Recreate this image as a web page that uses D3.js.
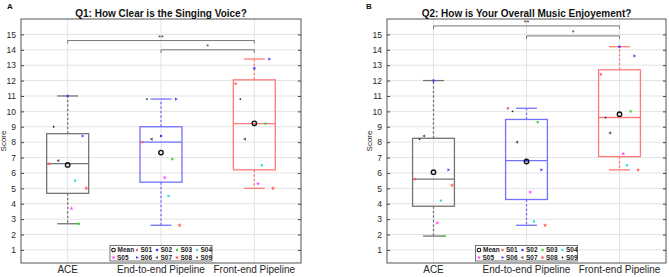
<!DOCTYPE html>
<html>
<head>
<meta charset="utf-8">
<script src="https://cdn.jsdelivr.net/npm/d3@7"></script>
<style>
  body { margin: 0; background: #fff; }
  svg { display: block; font-family: "Liberation Sans", Arial, sans-serif; }
</style>
</head>
<body>
<div id="chart"></div>
<script>
// categories + subjects
const categories = ['ACE', 'End-to-end Pipeline', 'Front-end Pipeline'];
const subjects = ['S01', 'S02', 'S03', 'S04', 'S05', 'S06', 'S07', 'S08', 'S09'];
// horizontal jitter of each subject (in category units)
const subjectJitter = [-0.2, 0, 0.12, 0.08, 0.04, 0.16, -0.1, 0.2, -0.15];

// Q1 scores per subject (S01..S09)
const q1Ace = [6.6, 11.0, 2.7, 5.5, 3.7, 8.4, 6.8, 5.0, 9.0];
const q1EndToEnd = [8.0, 8.4, 6.9, 4.5, 5.7, 10.8, 8.2, 2.6, 10.8];
const q1FrontEnd = [11.8, 12.8, 9.2, 6.5, 5.3, 13.4, 8.2, 5.0, 10.8];
// Q2 scores per subject
const q2Ace = [5.6, 12.0, 1.9, 4.2, 2.75, 6.2, 8.4, 5.2, 8.2];
const q2EndToEnd = [10.2, 6.8, 9.3, 2.85, 4.75, 6.2, 8.0, 2.6, 10.0];
const q2FrontEnd = [12.4, 14.2, 10.0, 6.5, 7.25, 13.6, 8.6, 6.2, 9.6];

// significance brackets: [from, to, label], bracket heights per question
const sigPairs = [[0, 2, '**'], [1, 2, '*']];
const q1SigLevels = [14.6, 14.0];
const q2SigLevels = [15.55, 14.9];

const yTicks = d3.range(1, 16);

const width = 669, height = 277;
const boxColors = ['#747474', '#7272ff', '#ff7b7b'];
const subjectColors = ['#ff6060', '#3a3aff', '#33dd33', '#33e0e0', '#ff55ff', '#4a4aff', '#555555', '#ff6060', '#222222'];
const subjectShapes = [d3.symbolSquare, d3.symbolSquare, d3.symbolSquare, d3.symbolSquare, d3.symbolStar,
  d3.symbolTriangle, d3.symbolTriangle, d3.symbolStar, d3.symbolCircle];
const subjectRot = [0, 0, 0, 0, 0, 90, -90, 0, 0];
const subjectSize = [5, 5, 5, 5, 6, 4.5, 4.5, 6, 2.5];

const svg = d3.select('#chart').append('svg')
  .attr('width', width)
  .attr('height', height);

// MATLAB style percentile
function prctile(sorted, p) {
  const n = sorted.length;
  const pos = p * n + 0.5;
  if (pos <= 1) return sorted[0];
  if (pos >= n) return sorted[n - 1];
  const i = Math.floor(pos), f = pos - i;
  return sorted[i - 1] + f * (sorted[i] - sorted[i - 1]);
}

function boxStats(values) {
  const s = values.slice().sort(d3.ascending);
  const q1 = prctile(s, 0.25), med = prctile(s, 0.5), q3 = prctile(s, 0.75);
  const iqr = q3 - q1;
  const hi = d3.max(s.filter(v => v <= q3 + 1.5 * iqr));
  const lo = d3.min(s.filter(v => v >= q1 - 1.5 * iqr));
  return { q1, med, q3, hi, lo, mean: d3.mean(s) };
}

const panels = [
  { tag: 'A', title: 'Q1: How Clear is the Singing Voice?', scores: [q1Ace, q1EndToEnd, q1FrontEnd], sig: q1SigLevels, x0: 21, x1: 301, tagX: 7 },
  { tag: 'B', title: 'Q2: How is Your Overall Music Enjoyement?', scores: [q2Ace, q2EndToEnd, q2FrontEnd], sig: q2SigLevels, x0: 387, x1: 666, tagX: 366 }
];

const y = d3.scaleLinear().domain([0.15, 16]).range([263, 19]);

panels.forEach(p => {
  const g = svg.append('g');
  const x = d3.scaleLinear().domain([0.5, 3.5]).range([p.x0, p.x1]);
  const unit = x(1) - x(0);

  // grid
  g.append('g').selectAll('line.h')
    .data(yTicks)
    .join('line')
    .attr('x1', p.x0).attr('x2', p.x1)
    .attr('y1', d => y(d)).attr('y2', d => y(d))
    .attr('stroke', '#e3e3e3');
  g.append('g').selectAll('line.v')
    .data(categories)
    .join('line')
    .attr('x1', (d, i) => x(i + 1)).attr('x2', (d, i) => x(i + 1))
    .attr('y1', y.range()[0]).attr('y2', y.range()[1])
    .attr('stroke', '#e3e3e3');

  // y axis
  const ya = g.append('g')
    .attr('transform', `translate(${p.x0},0)`)
    .call(d3.axisLeft(y).tickValues(yTicks).tickSize(-3).tickPadding(5));
  ya.select('.domain').remove();
  ya.selectAll('.tick line').attr('stroke', '#444');
  ya.selectAll('.tick text').attr('fill', '#262626').attr('font-size', 8.5).attr('font-family', '"Liberation Sans", Arial, sans-serif');
  const yr = g.append('g')
    .attr('transform', `translate(${p.x1},0)`)
    .call(d3.axisRight(y).tickValues(yTicks).tickSize(-3).tickFormat(''));
  yr.select('.domain').remove();
  yr.selectAll('.tick line').attr('stroke', '#444');

  // boxes
  p.scores.forEach((vals, ci) => {
    const st = boxStats(vals);
    const cx = x(ci + 1);
    const bw = unit * 0.45;
    const col = boxColors[ci];
    const bg = g.append('g').attr('stroke', col).attr('fill', 'none').attr('stroke-width', 1.3);
    bg.append('line').attr('x1', cx).attr('x2', cx).attr('y1', y(st.q3)).attr('y2', y(st.hi))
      .attr('stroke-dasharray', '2.5,2');
    bg.append('line').attr('x1', cx).attr('x2', cx).attr('y1', y(st.q1)).attr('y2', y(st.lo))
      .attr('stroke-dasharray', '2.5,2');
    bg.append('line').attr('x1', cx - bw / 4).attr('x2', cx + bw / 4).attr('y1', y(st.hi)).attr('y2', y(st.hi));
    bg.append('line').attr('x1', cx - bw / 4).attr('x2', cx + bw / 4).attr('y1', y(st.lo)).attr('y2', y(st.lo));
    bg.append('rect').attr('x', cx - bw / 2).attr('width', bw)
      .attr('y', y(st.q3)).attr('height', y(st.q1) - y(st.q3));
    bg.append('line').attr('x1', cx - bw / 2).attr('x2', cx + bw / 2).attr('y1', y(st.med)).attr('y2', y(st.med));

    // subject points
    g.append('g').selectAll('path')
      .data(vals)
      .join('path')
      .attr('d', (d, i) => d3.symbol(subjectShapes[i], subjectSize[i])())
      .attr('transform', (d, i) => `translate(${x(ci + 1 + subjectJitter[i])},${y(d)}) rotate(${subjectRot[i]})`)
      .attr('fill', (d, i) => subjectColors[i]);

    // mean
    g.append('circle').attr('cx', cx).attr('cy', y(st.mean)).attr('r', 2.2)
      .attr('fill', 'none').attr('stroke', '#111').attr('stroke-width', 1.4);
  });

  // significance
  sigPairs.forEach((s, k) => {
    const lv = y(p.sig[k]);
    const xa = x(s[0] + 1), xb = x(s[1] + 1);
    g.append('path')
      .attr('d', `M${xa},${lv + 3}V${lv}H${xb}V${lv + 3}`)
      .attr('fill', 'none').attr('stroke', '#777').attr('stroke-width', 1);
    g.append('text')
      .attr('x', (xa + xb) / 2).attr('y', lv - 0.5)
      .attr('text-anchor', 'middle').attr('font-size', 7).attr('fill', '#333')
      .text(s[2]);
  });

  // frame
  g.append('rect')
    .attr('x', p.x0).attr('y', y.range()[1])
    .attr('width', p.x1 - p.x0).attr('height', y.range()[0] - y.range()[1])
    .attr('fill', 'none').attr('stroke', '#555');

  // category labels
  g.append('g').selectAll('text')
    .data(categories)
    .join('text')
    .attr('x', (d, i) => x(i + 1)).attr('y', 273)
    .attr('text-anchor', 'middle').attr('font-size', 10).attr('fill', '#262626')
    .text(d => d);

  // titles
  g.append('text').attr('x', (p.x0 + p.x1) / 2).attr('y', 17)
    .attr('text-anchor', 'middle').attr('font-size', 10).attr('font-weight', 'bold').attr('fill', '#111')
    .text(p.title);
  g.append('text').attr('x', p.tagX).attr('y', 9)
    .attr('font-size', 8).attr('font-weight', 'bold').attr('fill', '#111')
    .text(p.tag);
  g.append('text')
    .attr('transform', `translate(${p.x0 - 15},${(y.range()[0] + y.range()[1]) / 2}) rotate(-90)`)
    .attr('text-anchor', 'middle').attr('font-size', 8).attr('fill', '#262626')
    .text('Score');

  // legend
  const lx = x(2) - 51, ly = 245.5;
  const lg = g.append('g').attr('transform', `translate(${lx},${ly})`);
  lg.append('rect').attr('width', 102).attr('height', 15.5)
    .attr('fill', '#fff').attr('stroke', '#555').attr('stroke-width', 0.8);
  const colX = [3.5, 27, 47, 67, 87];
  const items = [{ name: 'Mean', mean: true }].concat(subjects.map((s, i) => ({ name: s, i })));
  items.forEach((it, k) => {
    const row = k < 5 ? 0 : 1;
    const col = k < 5 ? k : k - 5;
    const ix = colX[col], iy = 4.5 + row * 7.5;
    if (it.mean) {
      lg.append('circle').attr('cx', ix).attr('cy', iy).attr('r', 1.8)
        .attr('fill', 'none').attr('stroke', '#111').attr('stroke-width', 1.1);
    } else {
      lg.append('path')
        .attr('d', d3.symbol(subjectShapes[it.i], subjectSize[it.i])())
        .attr('transform', `translate(${ix},${iy}) rotate(${subjectRot[it.i]})`)
        .attr('fill', subjectColors[it.i]);
    }
    lg.append('text').attr('x', ix + (it.mean ? 4 : 3.5)).attr('y', iy + 2.3)
      .attr('font-size', 6.5).attr('font-weight', 'bold').attr('fill', '#222')
      .text(it.name);
  });
});
</script>
</body>
</html>
